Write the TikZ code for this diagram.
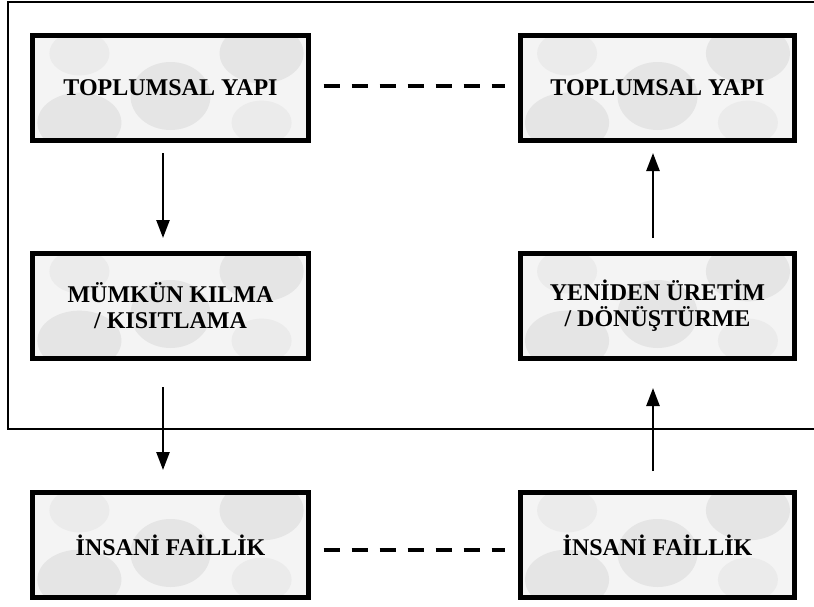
\documentclass[tikz,border=0pt]{standalone}
\usepackage{fontspec}
\setmainfont{Liberation Serif}
\usetikzlibrary{arrows.meta,calc}
\tikzset{
  box/.style={draw=black, line width=5pt, fill=gray!9, minimum height=105pt, inner sep=0pt,
    align=center, font=\fontsize{24}{26}\selectfont\bfseries,
    path picture={
      \fill[gray!20] ($(path picture bounding box.south west)!0.17!(path picture bounding box.north east)$) ellipse [x radius=42pt, y radius=30pt];
      \fill[gray!20] ($(path picture bounding box.center)+(0,-8pt)$) ellipse [x radius=40pt, y radius=34pt];
      \fill[gray!20] ($(path picture bounding box.south west)!0.83!(path picture bounding box.north east)$) ellipse [x radius=42pt, y radius=30pt];
      \fill[gray!16] ($(path picture bounding box.north west)!0.83!(path picture bounding box.south east)$) ellipse [x radius=30pt, y radius=22pt];
      \fill[gray!16] ($(path picture bounding box.north west)!0.17!(path picture bounding box.south east)$) ellipse [x radius=30pt, y radius=22pt];
    }},
  lbox/.style={box, minimum width=276pt},
  rbox/.style={box, minimum width=274pt},
  arr/.style={line width=2.5pt, -{Triangle[length=18pt,width=13pt]}},
  dashline/.style={line width=4pt, dash pattern=on 16pt off 12pt},
  frame/.style={line width=1.6pt}
}
\begin{document}
\begin{tikzpicture}[x=1pt,y=-1pt]
\useasboundingbox (0,0) rectangle (814,606);
\draw[frame] (814,2) -- (8,2) -- (8,429) -- (814,429);
\node[lbox] (tl) at (170.5,88) {TOPLUMSAL YAPI};
\node[rbox] (tr) at (657.5,88) {TOPLUMSAL YAPI};
\node[lbox] (ml) at (170.5,306) {MÜMKÜN KILMA\\/ KISITLAMA};
\node[rbox] (mr) at (657.5,306) {YENİDEN ÜRETİM\\/ DÖNÜŞTÜRME};
\node[lbox] (bl) at (170.5,545) {İNSANİ FAİLLİK};
\node[rbox] (br) at (657.5,545) {İNSANİ FAİLLİK};
\draw[arr] ([xshift=-7.5pt,yshift=-10pt]tl.south) -- ([xshift=-7.5pt,yshift=13pt]ml.north);
\draw[arr] ([xshift=-7.5pt,yshift=-26pt]ml.south) -- ([xshift=-7.5pt,yshift=20pt]bl.north);
\draw[arr] ([xshift=-4.5pt,yshift=19pt]br.north) -- ([xshift=-4.5pt,yshift=-27pt]mr.south);
\draw[arr] ([xshift=-4.5pt,yshift=13pt]mr.north) -- ([xshift=-4.5pt,yshift=-10pt]tr.south);
\draw[dashline] ([xshift=12.5pt,yshift=2pt]tl.east) -- ([xshift=-13pt,yshift=2pt]tr.west);
\draw[dashline] ([xshift=12.5pt,yshift=-5pt]bl.east) -- ([xshift=-13pt,yshift=-5pt]br.west);
\end{tikzpicture}
\end{document}
